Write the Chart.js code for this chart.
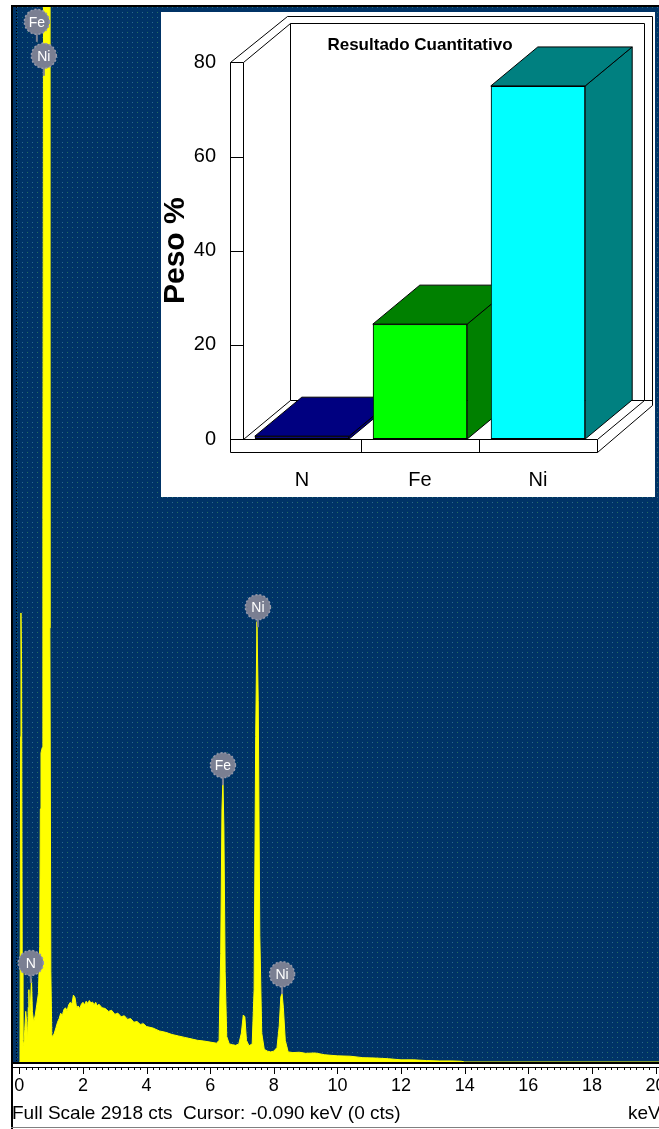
<!DOCTYPE html>
<html>
<head>
<meta charset="utf-8">
<title>Espectro EDS - Resultado Cuantitativo</title>
<script src="https://cdn.jsdelivr.net/npm/chart.js@4/dist/chart.umd.min.js"></script>
<style>
  body { margin: 0; background: #fff; }
  #wrap { position: relative; width: 659px; height: 1129px; overflow: hidden; }
  #spectrum { position: absolute; left: 0; top: 0; }
  #inset { position: absolute; left: 161px; top: 12px; background: #fff; }
</style>
</head>
<body>
<div id="wrap">
  <canvas id="spectrum" width="659" height="1129"></canvas>
  <canvas id="inset" width="494" height="485"></canvas>
</div>
<script>
// Spectrum data (keV / counts)
const energyKeV = [
  0, 0.02, 0.04, 0.05, 0.07, 0.09, 0.11, 0.14, 0.17, 0.20,
  0.23, 0.26, 0.28, 0.30, 0.32, 0.35, 0.38, 0.41, 0.45, 0.50,
  0.55, 0.60, 0.64, 0.66, 0.68, 0.72, 0.74, 0.76, 0.94, 0.96,
  0.99, 1.02, 1.05, 1.10, 1.15, 1.20, 1.25, 1.30, 1.35, 1.40,
  1.45, 1.50, 1.55, 1.60, 1.65, 1.70, 1.75, 1.80, 1.85, 1.90,
  1.95, 2.00, 2.05, 2.10, 2.15, 2.20, 2.25, 2.30, 2.35, 2.40,
  2.45, 2.50, 2.60, 2.70, 2.80, 2.90, 3.00, 3.10, 3.20, 3.30,
  3.40, 3.50, 3.60, 3.70, 3.80, 3.90, 4.00, 4.20, 4.40, 4.60,
  4.80, 5.00, 5.20, 5.40, 5.60, 5.80, 6.00, 6.20, 6.28, 6.33,
  6.37, 6.40, 6.43, 6.47, 6.52, 6.60, 6.70, 6.80, 6.90, 6.98,
  7.04, 7.09, 7.14, 7.22, 7.32, 7.38, 7.43, 7.47, 7.51, 7.56,
  7.62, 7.70, 7.80, 7.90, 8.00, 8.10, 8.17, 8.22, 8.26, 8.30,
  8.36, 8.45, 8.60, 8.80, 9.00, 9.30, 9.60, 10.0, 10.4, 10.8,
  11.2, 11.6, 12.0, 12.4, 12.8, 13.2, 13.6, 13.9, 14.0, 20.11
];
const counts = [
  0, 30, 900, 1242, 1100, 250, 60, 45, 90, 140,
  110, 60, 150, 200, 120, 160, 230, 140, 110, 130,
  160, 190, 320, 700, 855, 870, 1500, 2960, 2960, 1200,
  250, 75, 70, 80, 95, 110, 120, 135, 128, 145,
  150, 142, 158, 165, 160, 185, 178, 150, 155, 148,
  160, 165, 158, 168, 162, 170, 163, 166, 158, 165,
  155, 160, 150, 148, 140, 143, 132, 135, 125, 128,
  118, 120, 110, 112, 104, 106, 98, 94, 86, 82,
  76, 72, 68, 64, 60, 58, 55, 52, 60, 300,
  700, 780, 650, 250, 70, 50, 48, 46, 50, 80,
  130, 125, 60, 45, 50, 200, 900, 1218, 1000, 350,
  80, 35, 30, 28, 30, 40, 100, 180, 190, 150,
  60, 28, 26, 27, 24, 25, 20, 17, 16, 12,
  11, 9, 6, 6, 4, 3, 3, 2, 0, 0
];
const keVTicks = [0, 2, 4, 6, 8, 10, 12, 14, 16, 18, 20];
const fullScale = 2918;
const cursorKeV = -0.090;

// Peak markers
const peakNames = ['Fe', 'Ni', 'N', 'Fe', 'Ni', 'Ni'];
const peakKeV = [0.55, 0.77, 0.36, 6.40, 7.50, 8.26];
const peakLabelCts = [2877, 2783, 274, 821, 1258, 243];

// Inset: quantitative result
const elements = ['N', 'Fe', 'Ni'];
const pesoPct = [0.6, 24.4, 75.0];
const pesoTicks = [0, 20, 40, 60, 80];

const FONT = '"Liberation Sans", Arial, sans-serif';
Chart.defaults.font.family = FONT;
Chart.defaults.color = '#000';

// Dotted navy background of the spectrum
function makeDotPattern(ctx) {
  const c = document.createElement('canvas');
  c.width = 10; c.height = 10;
  const p = c.getContext('2d');
  p.fillStyle = '#003366';
  p.fillRect(0, 0, 10, 10);
  p.fillStyle = '#2b6790';
  p.fillRect(2, 2, 1, 1);
  p.fillRect(7, 7, 1, 1);
  p.fillStyle = '#25705f';
  p.fillRect(7, 2, 1, 1);
  p.fillRect(2, 7, 1, 1);
  return ctx.createPattern(c, 'repeat');
}

const spectrumDeco = {
  id: 'spectrumDeco',
  beforeDraw(chart) {
    const { ctx, chartArea: a } = chart;
    ctx.save();
    ctx.fillStyle = '#fff';
    ctx.fillRect(0, 0, chart.width, chart.height);
    ctx.fillStyle = makeDotPattern(ctx);
    ctx.fillRect(a.left, a.top, a.right - a.left, a.bottom - a.top);
    ctx.restore();
  },
  afterDatasetsDraw(chart) {
    const { ctx, chartArea: a, scales: { x, y } } = chart;
    ctx.save();

    // cursor line
    const cx = Math.round(x.getPixelForValue(cursorKeV)) + 0.5;
    ctx.strokeStyle = '#000';
    ctx.lineWidth = 1;
    ctx.setLineDash([1, 2]);
    ctx.beginPath();
    ctx.moveTo(cx, a.top);
    ctx.lineTo(cx, a.bottom);
    ctx.stroke();
    ctx.setLineDash([]);

    // element labels
    peakNames.forEach((name, i) => {
      const px = x.getPixelForValue(peakKeV[i]);
      const py = y.getPixelForValue(peakLabelCts[i]);
      ctx.strokeStyle = '#7d8293';
      ctx.lineWidth = 2;
      ctx.beginPath();
      ctx.moveTo(px, py);
      ctx.lineTo(px, py + 20);
      ctx.stroke();

      ctx.fillStyle = '#7a7f92';
      ctx.beginPath();
      ctx.arc(px, py, 12.5, 0, Math.PI * 2);
      ctx.fill();
      ctx.strokeStyle = '#959aab';
      ctx.lineWidth = 1.5;
      ctx.setLineDash([2, 2]);
      ctx.stroke();
      ctx.setLineDash([]);

      ctx.fillStyle = '#fff';
      ctx.font = '14px ' + FONT;
      ctx.textAlign = 'center';
      ctx.textBaseline = 'middle';
      ctx.fillText(name, px, py + 1);
    });
    ctx.restore();
  },
  afterDraw(chart) {
    const { ctx, chartArea: a, scales: { x } } = chart;
    ctx.save();
    ctx.fillStyle = '#000';
    // frame
    ctx.fillRect(a.left - 2, a.top - 2, chart.width, 2);
    ctx.fillRect(a.left - 2, a.top - 2, 2, chart.height);
    ctx.fillRect(a.left, a.bottom, a.right - a.left, 2);
    ctx.fillStyle = '#808080';
    ctx.fillRect(a.left - 2, chart.height - 2, chart.width, 1);

    // ruler
    ctx.fillStyle = '#000';
    ctx.fillRect(a.left, a.bottom + 5, a.right - a.left, 1);
    for (let k = 0; k <= 101; k++) {
      const v = k * 0.2;
      if (v > x.max) break;
      const px = Math.round(x.getPixelForValue(v));
      const len = k % 10 === 0 ? 7 : 3;
      ctx.fillRect(px, a.bottom + 5, 1, len);
    }

    // status line
    ctx.font = '19px ' + FONT;
    ctx.textBaseline = 'middle';
    ctx.textAlign = 'left';
    ctx.fillText('Full Scale ' + fullScale + ' cts  Cursor: ' + cursorKeV.toFixed(3) + ' keV (0 cts)', a.left - 1, 1114);
    ctx.fillText('keV', 628, 1114);
    ctx.restore();
  }
};

new Chart(document.getElementById('spectrum'), {
  type: 'line',
  data: {
    datasets: [{
      data: energyKeV.map((e, i) => ({ x: e, y: counts[i] })),
      borderColor: '#ffff00',
      backgroundColor: '#ffff00',
      borderWidth: 1,
      fill: 'origin',
      pointRadius: 0,
      tension: 0
    }]
  },
  options: {
    responsive: false,
    animation: false,
    layout: { padding: { left: 13, top: 7, right: 0, bottom: 0 } },
    plugins: { legend: { display: false }, tooltip: { enabled: false } },
    scales: {
      x: {
        type: 'linear',
        min: -0.2,
        max: 20.11,
        afterBuildTicks: s => { s.ticks = keVTicks.map(v => ({ value: v })); },
        afterFit: s => { s.height = 67; s.paddingLeft = 0; s.paddingRight = 0; },
        grid: { display: false, drawTicks: false },
        border: { display: false },
        ticks: { padding: 13, autoSkip: false, maxRotation: 0, font: { size: 18 } }
      },
      y: { display: false, min: 0, max: fullScale }
    }
  },
  plugins: [spectrumDeco]
});

// 3D look of the inset
const DX = 47, DY = -39, WALL = 13;
const frontColors = ['#000080', '#00ff00', '#00ffff'];
const sideColors = ['#000080', '#008000', '#008080'];

function poly(ctx, pts, fill) {
  ctx.beginPath();
  ctx.moveTo(pts[0][0], pts[0][1]);
  pts.slice(1).forEach(p => ctx.lineTo(p[0], p[1]));
  ctx.closePath();
  if (fill) ctx.fill();
  ctx.stroke();
}
function line(ctx, x1, y1, x2, y2) {
  ctx.beginPath();
  ctx.moveTo(x1, y1);
  ctx.lineTo(x2, y2);
  ctx.stroke();
}

const inset3d = {
  id: 'inset3d',
  beforeDraw(chart) {
    const { ctx, chartArea: a, scales: { x, y } } = chart;
    const L = Math.round(a.left) + 0.5, R = Math.round(a.right) + 0.5;
    const T = Math.round(y.getPixelForValue(pesoTicks[pesoTicks.length - 1])) + 0.5;
    const B = Math.round(y.getPixelForValue(0)) + 0.5;
    ctx.save();
    ctx.fillStyle = '#fff';
    ctx.fillRect(0, 0, chart.width, chart.height);
    ctx.strokeStyle = '#000';
    ctx.lineWidth = 1;

    // outline of walls and floor
    poly(ctx, [
      [L - WALL, B + WALL], [L - WALL, T], [L + DX - 3, T + DY - 7],
      [R + DX + 8, T + DY - 7], [R + DX + 8, B + DY + 5], [R, B + WALL]
    ], true);
    // back wall
    poly(ctx, [[L + DX, T + DY], [R + DX, T + DY], [R + DX, B + DY], [L + DX, B + DY]], false);
    line(ctx, R + DX, B + DY, R + DX + 8, B + DY);
    // left wall
    line(ctx, L, T, L, B);
    line(ctx, L, T, L + DX, T + DY);
    line(ctx, L, B, L + DX, B + DY);
    // floor
    line(ctx, L - WALL, B, R, B);
    line(ctx, R, B, R + DX, B + DY);
    line(ctx, R, B, R, B + WALL);
    // category dividers on the floor edge
    for (let i = 0; i < elements.length - 1; i++) {
      const px = Math.round((x.getPixelForTick(i) + x.getPixelForTick(i + 1)) / 2) + 0.5;
      line(ctx, px, B, px, B + WALL);
    }
    // tick marks on the left wall
    pesoTicks.forEach(v => {
      const py = Math.round(y.getPixelForValue(v)) + 0.5;
      line(ctx, L - WALL, py, L, py);
    });
    ctx.restore();
  },
  afterDatasetsDraw(chart) {
    const { ctx } = chart;
    const meta = chart.getDatasetMeta(0);
    ctx.save();
    ctx.strokeStyle = '#000';
    ctx.lineWidth = 1;
    meta.data.forEach((bar, i) => {
      const { x: cx, y: top, base, width } = bar.getProps(['x', 'y', 'base', 'width'], true);
      const l = cx - width / 2, r = cx + width / 2;
      ctx.fillStyle = sideColors[i];
      poly(ctx, [[r, top], [r + DX, top + DY], [r + DX, base + DY], [r, base]], true);
      poly(ctx, [[l, top], [l + DX, top + DY], [r + DX, top + DY], [r, top]], true);
      bar.draw(ctx);
    });
    ctx.restore();
  }
};

new Chart(document.getElementById('inset'), {
  type: 'bar',
  data: {
    labels: elements,
    datasets: [{
      data: pesoPct,
      backgroundColor: frontColors,
      borderColor: '#000',
      borderWidth: 1,
      borderSkipped: false,
      barPercentage: 0.8,
      categoryPercentage: 1.0
    }]
  },
  options: {
    responsive: false,
    animation: false,
    layout: { padding: { top: 10, right: 58, left: 0, bottom: 0 } },
    plugins: {
      legend: { display: false },
      tooltip: { enabled: false },
      title: {
        display: true,
        text: 'Resultado Cuantitativo',
        fullSize: false,
        color: '#000',
        font: { size: 17, weight: 'bold' },
        padding: { top: 13, bottom: 7 }
      }
    },
    scales: {
      x: {
        grid: { display: false, drawTicks: false },
        border: { display: false },
        ticks: { padding: 29, font: { size: 20 } },
        afterFit: s => { s.height = 58; s.paddingLeft = 0; s.paddingRight = 0; }
      },
      y: {
        min: 0,
        max: 80,
        afterBuildTicks: s => { s.ticks = pesoTicks.map(v => ({ value: v })); },
        grid: { display: false, drawTicks: false },
        border: { display: false },
        ticks: { padding: 27, font: { size: 20 } },
        title: { display: true, text: 'Peso %', font: { size: 30, weight: 'bold' }, padding: { top: -3, bottom: 0 } },
        afterFit: s => { s.width = 82; s.paddingTop = 0; s.paddingBottom = 0; }
      }
    }
  },
  plugins: [inset3d]
});
</script>
</body>
</html>
